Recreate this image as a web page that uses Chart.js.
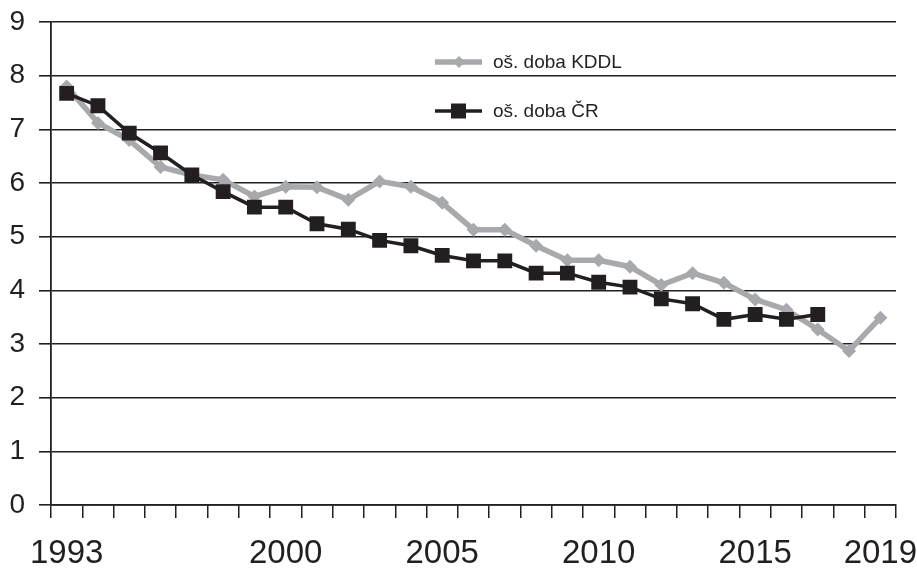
<!DOCTYPE html>
<html>
<head>
<meta charset="utf-8">
<script src="https://cdn.jsdelivr.net/npm/chart.js@4.4.1/dist/chart.umd.min.js"></script>
<style>
  html, body { margin: 0; padding: 0; background: #fff; }
</style>
</head>
<body>
<canvas id="chart" width="917" height="570"></canvas>
<script>
// years on the category axis, only some of them get a label
const years = ['1993', '1994', '1995', '1996', '1997', '1998', '1999', '2000', '2001', '2002',
               '2003', '2004', '2005', '2006', '2007', '2008', '2009', '2010', '2011', '2012',
               '2013', '2014', '2015', '2016', '2017', '2018', '2019'];
const labelledYears = ['1993', '2000', '2005', '2010', '2015', '2019'];

// oš. doba KDDL (grey, diamonds)
const kddl = [7.8, 7.12, 6.8, 6.3, 6.15, 6.06, 5.75, 5.93, 5.92, 5.69,
              6.03, 5.93, 5.63, 5.13, 5.13, 4.83, 4.56, 4.56, 4.44, 4.1,
              4.32, 4.14, 3.83, 3.64, 3.27, 2.87, 3.49];
// oš. doba ČR (black, squares)
const cr = [7.67, 7.44, 6.93, 6.56, 6.15, 5.84, 5.55, 5.55, 5.24, 5.14,
            4.93, 4.83, 4.65, 4.55, 4.55, 4.32, 4.32, 4.15, 4.06, 3.84,
            3.75, 3.46, 3.55, 3.46, 3.55, null, null];

const yMin = 0, yMax = 9, yStep = 1;

const ink = '#231f20';
const grey = '#a7a9ac';
const font = '"Liberation Sans", Arial, sans-serif';

// legend drawn as line + marker, the way the original shows it
const lineLegend = {
  id: 'lineLegend',
  afterDraw(chart) {
    const ctx = chart.ctx;
    const rows = [
      { ds: chart.data.datasets[1], y: 62, marker: 'diamond' },
      { ds: chart.data.datasets[0], y: 111, marker: 'square' }
    ];
    ctx.save();
    rows.forEach(r => {
      ctx.strokeStyle = r.ds.borderColor;
      ctx.fillStyle = r.ds.borderColor;
      ctx.lineWidth = r.ds.borderWidth;
      ctx.beginPath();
      ctx.moveTo(435, r.y);
      ctx.lineTo(482, r.y);
      ctx.stroke();
      if (r.marker === 'square') {
        ctx.fillRect(451, r.y - 7.5, 15, 15);
      } else {
        ctx.beginPath();
        ctx.moveTo(459, r.y - 6);
        ctx.lineTo(465, r.y);
        ctx.lineTo(459, r.y + 6);
        ctx.lineTo(453, r.y);
        ctx.closePath();
        ctx.fill();
      }
      ctx.fillStyle = ink;
      ctx.font = '19px ' + font;
      ctx.textBaseline = 'middle';
      ctx.textAlign = 'left';
      ctx.fillText(r.ds.label, 493, r.y + 1);
    });
    ctx.restore();
  }
};

// keep the plot box where the original has it, labels may hang over the edges
const noLabelPadding = scale => {
  scale.paddingTop = 0;
  scale.paddingBottom = 0;
  scale.paddingLeft = 0;
  scale.paddingRight = 0;
};

new Chart(document.getElementById('chart'), {
  type: 'line',
  data: {
    labels: years,
    datasets: [
      {
        label: 'oš. doba ČR',
        data: cr,
        borderColor: ink,
        backgroundColor: ink,
        borderWidth: 3.5,
        pointStyle: 'rect',
        pointRadius: 10.5,
        pointBorderWidth: 0,
        order: 0,
        spanGaps: false
      },
      {
        label: 'oš. doba KDDL',
        data: kddl,
        borderColor: grey,
        backgroundColor: grey,
        borderWidth: 5.5,
        pointStyle: 'rectRot',
        pointRadius: 7,
        pointBorderWidth: 0,
        order: 1
      }
    ]
  },
  options: {
    responsive: false,
    animation: false,
    layout: { padding: { left: 0, right: 21, top: 22, bottom: 0 } },
    plugins: {
      legend: { display: false },
      tooltip: { enabled: false }
    },
    scales: {
      x: {
        offset: true,
        grid: {
          offset: true,
          drawOnChartArea: false,
          drawTicks: true,
          tickLength: 13,
          color: ink,
          lineWidth: 1.5
        },
        border: { display: true, color: ink, width: 1.8 },
        ticks: {
          autoSkip: false,
          maxRotation: 0,
          padding: 16,
          color: ink,
          font: { family: font, size: 33 },
          callback: function (value) {
            const y = this.getLabelForValue(value);
            return labelledYears.includes(y) ? y : '';
          }
        },
        afterFit: scale => { scale.height = 65; noLabelPadding(scale); }
      },
      y: {
        min: yMin,
        max: yMax,
        grid: {
          color: ink,
          lineWidth: 1.6,
          tickLength: 12
        },
        border: { display: true, color: ink, width: 1.8 },
        ticks: {
          stepSize: yStep,
          padding: 14,
          color: ink,
          font: { family: font, size: 28 }
        },
        afterFit: scale => { scale.width = 51; noLabelPadding(scale); }
      }
    }
  },
  plugins: [lineLegend]
});
</script>
</body>
</html>
